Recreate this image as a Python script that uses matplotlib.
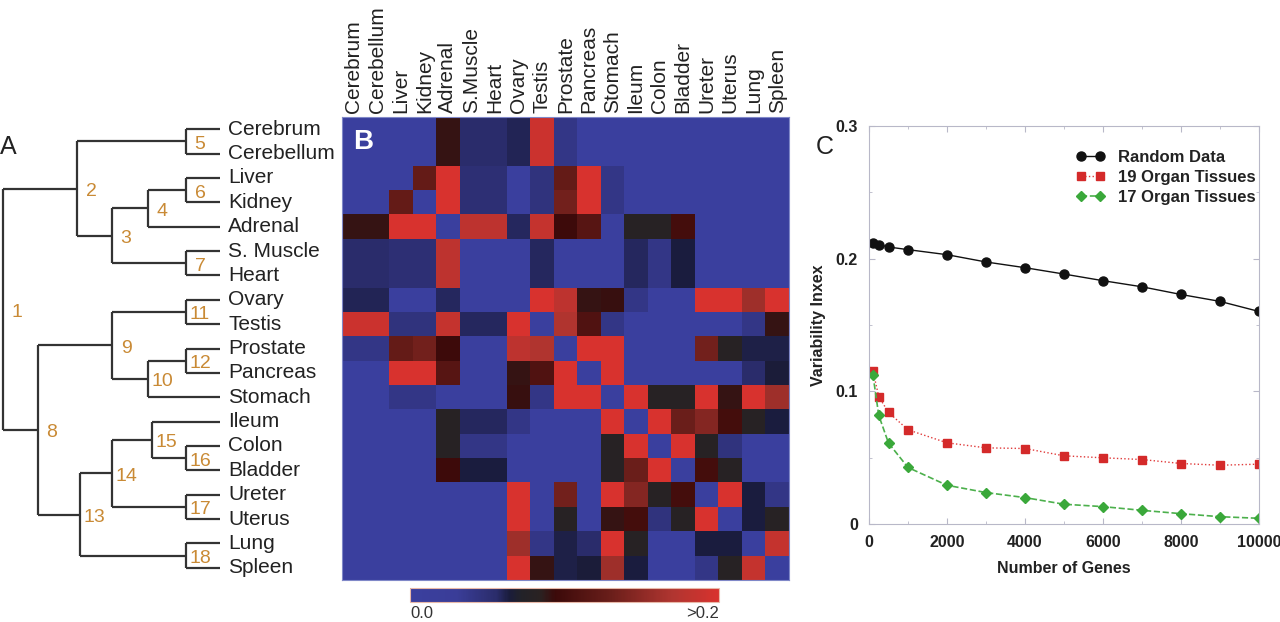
import matplotlib
matplotlib.use('Agg')
import matplotlib.pyplot as plt
import numpy as np
from matplotlib.colors import LinearSegmentedColormap
from matplotlib.ticker import MultipleLocator, FuncFormatter

plt.rcParams['font.family'] = ['Liberation Sans', 'DejaVu Sans']

# --- data ---
organs = ['Cerebrum', 'Cerebellum', 'Liver', 'Kidney', 'Adrenal', 'S.Muscle', 'Heart',
          'Ovary', 'Testis', 'Prostate', 'Pancreas', 'Stomach', 'Ileum', 'Colon',
          'Bladder', 'Ureter', 'Uterus', 'Lung', 'Spleen']
leaf_labels = ['Cerebrum', 'Cerebellum', 'Liver', 'Kidney', 'Adrenal', 'S. Muscle', 'Heart',
               'Ovary', 'Testis', 'Prostate', 'Pancreas', 'Stomach', 'Ileum', 'Colon',
               'Bladder', 'Ureter', 'Uterus', 'Lung', 'Spleen']

# pairwise variability (0 .. >0.2)
vals = [
    [0, 0, 0, 0, .09, .055, .055, .06, .19, .04, 0, 0, 0, 0, 0, 0, 0, 0, 0],
    [0, 0, 0, 0, .09, .055, .055, .06, .19, .04, 0, 0, 0, 0, 0, 0, 0, 0, 0],
    [0, 0, 0, .125, .2, .05, .05, 0, .045, .125, .2, .04, 0, 0, 0, 0, 0, 0, 0],
    [0, 0, .125, 0, .2, .05, .05, 0, .045, .135, .2, .04, 0, 0, 0, 0, 0, 0, 0],
    [.09, .09, .2, .2, 0, .18, .18, .058, .185, .095, .115, 0, .08, .08, .1, 0, 0, 0, 0],
    [.055, .055, .05, .05, .18, 0, 0, 0, .058, 0, 0, 0, .058, .04, .064, 0, 0, 0, 0],
    [.055, .055, .05, .05, .18, 0, 0, 0, .058, 0, 0, 0, .058, .04, .064, 0, 0, 0, 0],
    [.06, .06, 0, 0, .058, 0, 0, 0, .2, .18, .09, .092, .04, 0, 0, .2, .2, .16, .2],
    [.19, .19, .045, .045, .185, .058, .058, .2, 0, .17, .11, .04, 0, 0, 0, 0, 0, .04, .09],
    [.04, .04, .125, .135, .095, 0, 0, .18, .17, 0, .2, .2, 0, 0, 0, .135, .08, .062, .062],
    [0, 0, .2, .2, .115, 0, 0, .09, .11, .2, 0, .2, 0, 0, 0, 0, 0, .055, .065],
    [0, 0, .04, .04, 0, 0, 0, .092, .04, .2, .2, 0, .2, .08, .08, .2, .09, .2, .16],
    [0, 0, 0, 0, .08, .058, .058, .04, 0, 0, 0, .2, 0, .2, .13, .145, .1, .08, .064],
    [0, 0, 0, 0, .08, .04, .04, 0, 0, 0, 0, .08, .2, 0, .2, .08, .045, 0, 0],
    [0, 0, 0, 0, .095, .064, .064, 0, 0, 0, 0, .08, .13, .2, 0, .1, .08, 0, 0],
    [0, 0, 0, 0, 0, 0, 0, .2, 0, .135, 0, .2, .145, .08, .1, 0, .2, .064, .04],
    [0, 0, 0, 0, 0, 0, 0, .2, 0, .08, 0, .09, .1, .045, .08, .2, 0, .064, .08],
    [0, 0, 0, 0, 0, 0, 0, .16, .04, .062, .055, .2, .08, 0, 0, .064, .064, 0, .185],
    [0, 0, 0, 0, 0, 0, 0, .2, .09, .062, .065, .16, .064, 0, 0, .04, .08, .185, 0],
]

# dendrogram merges: (node number, left child, right child, height)
# children: int = leaf index, 'nX' = earlier node
merges = [
    (5, 0, 1, 0.157), (6, 2, 3, 0.157), (4, 'n6', 4, 0.332), (7, 5, 6, 0.157),
    (3, 'n4', 'n7', 0.498), (2, 'n5', 'n3', 0.659),
    (11, 7, 8, 0.157), (12, 9, 10, 0.157), (10, 'n12', 11, 0.332), (9, 'n11', 'n10', 0.498),
    (16, 13, 14, 0.157), (15, 12, 'n16', 0.313), (17, 15, 16, 0.157), (14, 'n15', 'n17', 0.498),
    (18, 17, 18, 0.157), (13, 'n14', 'n18', 0.645), (8, 'n9', 'n13', 0.839),
    (1, 'n2', 'n8', 1.0),
]

genes = [100, 250, 500, 1000, 2000, 3000, 4000, 5000, 6000, 7000, 8000, 9000, 10000]
random_data = [0.212, 0.2106, 0.2088, 0.2068, 0.203, 0.1975, 0.1932, 0.1884, 0.1834,
               0.1788, 0.173, 0.1678, 0.1602]
organs19 = [0.1156, 0.096, 0.0841, 0.071, 0.0612, 0.0574, 0.0569, 0.0514, 0.0499,
            0.0486, 0.0456, 0.0443, 0.0451]
organs17 = [0.1126, 0.0819, 0.061, 0.0426, 0.0292, 0.0237, 0.0199, 0.0149, 0.0131,
            0.0103, 0.0078, 0.0055, 0.0043]

W, H = 1280, 622
fig = plt.figure(figsize=(W / 100, H / 100), dpi=100)

def box(x0, y0, x1, y1):
    return [x0 / W, 1 - y1 / H, (x1 - x0) / W, (y1 - y0) / H]

node_col = '#c98a35'
line_col = '#333333'

# --- panel A: dendrogram ---
axd = fig.add_axes(box(0, 117, 342, 580))
axd.set_xlim(220 / 217, (220 - 342) / 217)
axd.set_ylim(len(organs) - 0.5, -0.5)
axd.axis('off')

pos = {}
for num, a, b, h in merges:
    ya, ha_ = (pos[a] if isinstance(a, str) else (a, 0.0))
    yb, hb = (pos[b] if isinstance(b, str) else (b, 0.0))
    axd.plot([h, h], [ya, yb], color=line_col, lw=1.6, solid_capstyle='butt')
    axd.plot([h, ha_], [ya, ya], color=line_col, lw=1.6, solid_capstyle='butt')
    axd.plot([h, hb], [yb, yb], color=line_col, lw=1.6, solid_capstyle='butt')
    ym = (ya + yb) / 2
    pos['n%d' % num] = (ym, h)
    axd.text(h - 0.065, ym + 0.12, str(num), color=node_col, fontsize=14,
             ha='center', va='center')

for i, lab in enumerate(leaf_labels):
    axd.text(-0.037, i, lab, fontsize=15, color='#222222', ha='left', va='center')

fig.text(0.0, 1 - 147 / H, 'A', fontsize=18, color='#222222', ha='left', va='center')

# --- panel B: heatmap ---
cmap = LinearSegmentedColormap.from_list('var', [
    (0.0, '#3a3f9e'), (0.15, '#3a3d98'), (0.28, '#2a2c6a'), (0.32, '#1a1c3c'),
    (0.36, '#222228'), (0.42, '#2a2222'), (0.47, '#3c0a0a'), (0.65, '#6a1e1a'),
    (0.85, '#b03530'), (1.0, '#d8322e')])

axh = fig.add_axes(box(342, 117, 789, 580))
im = axh.imshow(np.array(vals), cmap=cmap, vmin=0, vmax=0.2, aspect='auto',
                interpolation='nearest')
axh.xaxis.tick_top()
axh.set_xticks(range(len(organs)))
axh.set_xticklabels(organs, rotation=90, fontsize=15, color='#222222')
axh.set_yticks([])
axh.tick_params(axis='x', length=0, pad=3)
for s in axh.spines.values():
    s.set_color('#8088c8')
    s.set_linewidth(0.8)
axh.text(0.025, 0.946, 'B', transform=axh.transAxes, color='white', fontsize=20,
         fontweight='bold', ha='left', va='center')

cax = fig.add_axes(box(410, 588, 719, 602))
cb = fig.colorbar(im, cax=cax, orientation='horizontal')
cb.set_ticks([])
cb.outline.set_edgecolor('#e8b8a8')
cb.outline.set_linewidth(0.8)
fig.text(410 / W, 1 - 614 / H, '0.0', fontsize=12, color='#333333', ha='left', va='center')
fig.text(719 / W, 1 - 614 / H, '>0.2', fontsize=12, color='#333333', ha='right', va='center')

# --- panel C: variability index ---
axc = fig.add_axes(box(869, 126, 1259, 524))
axc.plot(genes, random_data, '-o', color='#111111', lw=1.0, ms=6.5, mfc='#111111',
         label='Random Data')
axc.plot(genes, organs19, ':s', color='#e03a3a', lw=1.0, ms=6, mfc='#d42a2a',
         mec='#d42a2a', label='19 Organ Tissues')
axc.plot(genes, organs17, '--D', color='#4cb04c', lw=1.2, ms=5.5, mfc='#3aa83a',
         mec='#3aa83a', label='17 Organ Tissues')
axc.set_xlim(0, 10000)
axc.set_ylim(0, 0.3)
axc.xaxis.set_major_locator(MultipleLocator(2000))
axc.xaxis.set_minor_locator(MultipleLocator(1000))
axc.yaxis.set_major_locator(MultipleLocator(0.1))
axc.yaxis.set_minor_locator(MultipleLocator(0.05))
axc.yaxis.set_major_formatter(FuncFormatter(lambda v, p: '0' if abs(v) < 1e-9 else '%.1f' % v))
axc.tick_params(which='both', direction='in', top=True, right=True, color='#b8b8c8')
axc.tick_params(which='major', length=4, labelsize=11.5, pad=8)
axc.tick_params(which='minor', length=2.5)
for lab in axc.get_xticklabels() + axc.get_yticklabels():
    lab.set_fontweight('bold')
    lab.set_color('#222222')
for s in axc.spines.values():
    s.set_color('#b8b8c8')
axc.set_xlabel('Number of Genes', fontsize=11.5, fontweight='bold', color='#222222', labelpad=8)
axc.set_ylabel('Variability Inxex', fontsize=11.5, fontweight='bold', color='#222222', labelpad=7)
leg = axc.legend(loc='upper left', bbox_to_anchor=(0.51, 0.96), frameon=False, numpoints=2,
                 handlelength=1.7, handletextpad=0.8, labelspacing=0.3, borderpad=0,
                 prop={'weight': 'bold', 'size': 12})
for t in leg.get_texts():
    t.set_color('#222222')

fig.text(816 / W, 1 - 147 / H, 'C', fontsize=18, color='#222222', ha='left', va='center')

fig.savefig('out.png', dpi=100)
